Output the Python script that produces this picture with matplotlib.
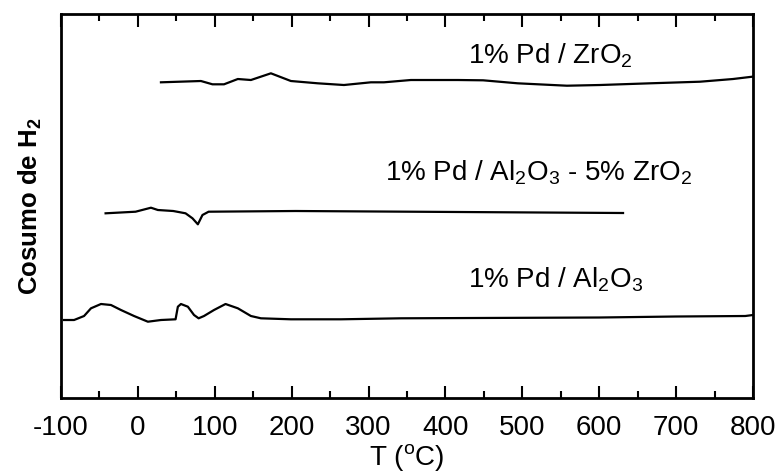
import matplotlib
matplotlib.use('Agg')
import matplotlib.pyplot as plt
from matplotlib.ticker import MultipleLocator

plt.rcParams['font.family'] = 'Liberation Sans'
plt.rcParams['mathtext.fontset'] = 'custom'
plt.rcParams['mathtext.rm'] = 'Liberation Sans'
plt.rcParams['mathtext.default'] = 'regular'
plt.rcParams['axes.unicode_minus'] = False

# Pd / ZrO2 (curva superior)
t_zro2 = [30, 82, 97, 112, 130, 147, 173, 199, 234, 268, 303, 320, 355, 416,
          449, 494, 558, 601, 666, 731, 774, 799]
h_zro2 = [315.7, 317, 313.7, 313.7, 319, 318, 324.7, 317, 314.7, 313, 315.7,
          315.7, 318, 318, 317.7, 314.7, 312.3, 313, 314.7, 316.3, 319, 321.3]

# Pd / Al2O3 - 5% ZrO2 (curva do meio)
t_mix = [-42, -3, 17, 26, 46, 62, 71, 78, 84, 92, 205, 631]
h_mix = [184.7, 186.3, 190.3, 188, 187, 184.7, 179.7, 173.7, 183, 186.3, 187, 185]

# Pd / Al2O3 (curva inferior)
t_al2o3 = [-96, -83, -70, -61, -48, -35, -22, -5, 13, 30, 49, 52, 56, 65, 73,
           79, 86, 99, 114, 130, 147, 160, 199, 264, 342, 600, 700, 790, 800]
h_al2o3 = [78, 78, 82, 89.7, 94, 93, 88, 82, 76.3, 78, 78.7, 91.3, 94, 91.3, 83,
           79.7, 82, 88, 94, 89.7, 82, 79.7, 78.7, 78.7, 79.7, 80.5, 81.5, 82, 83]

fig = plt.figure(figsize=(7.79, 4.75), dpi=100)
ax = fig.add_axes([0.0783, 0.1621, 0.8883, 0.8084])

for t, h in [(t_zro2, h_zro2), (t_mix, h_mix), (t_al2o3, h_al2o3)]:
    ax.plot(t, h, color='black', lw=1.6)

ax.text(536, 335, '1% Pd / ZrO$_2$', fontsize=20, ha='center', va='baseline')
ax.text(521, 218, '1% Pd / Al$_2$O$_3$ - 5% ZrO$_2$', fontsize=20, ha='center', va='baseline')
ax.text(543, 111, '1% Pd / Al$_2$O$_3$', fontsize=20, ha='center', va='baseline')

ax.set_xlim(-100, 800)
ax.set_ylim(0, 384)
ax.xaxis.set_major_locator(MultipleLocator(100))
ax.xaxis.set_minor_locator(MultipleLocator(50))
ax.set_yticks([])
ax.tick_params(axis='x', which='both', direction='in', top=True, labelsize=20, width=1.5)
ax.tick_params(axis='x', which='major', length=9, pad=12)
ax.tick_params(axis='x', which='minor', length=5)
for s in ax.spines.values():
    s.set_linewidth(2)

ax.set_xlabel('T ($^{o}$C)', fontsize=20, labelpad=1)
ax.set_ylabel('Cosumo de H$_2$', fontsize=18.5, fontweight='bold', labelpad=12)

fig.savefig('out.png', dpi=100)
